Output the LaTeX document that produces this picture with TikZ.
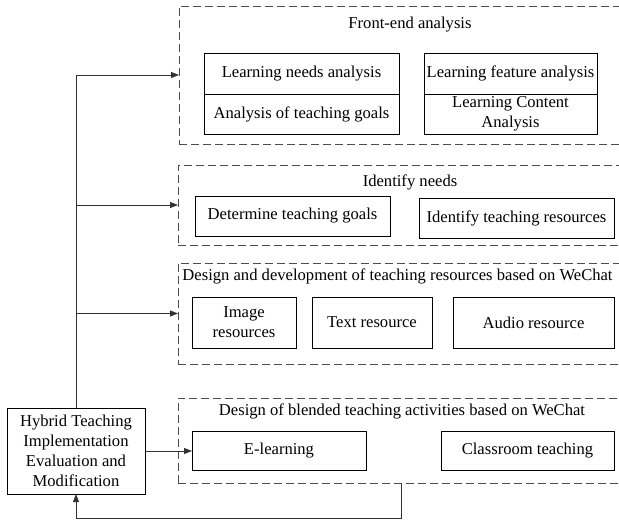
\documentclass[tikz,border=0pt]{standalone}
\usepackage{fontspec}
\setmainfont{Liberation Serif}
\usetikzlibrary{arrows.meta}
\begin{document}
\begin{tikzpicture}[x=1pt,y=-1pt,
  font=\fontsize{16.6}{19.8}\selectfont,
  every node/.style={inner sep=0pt, outer sep=0pt},
  solidbox/.style={draw=black, line width=0.9pt, align=center, rectangle},
  dashbox/.style={draw=black!70, line width=0.9pt, dash pattern=on 8pt off 4pt, rectangle},
  ttl/.style={align=center},
  conn/.style={draw=black!80, line width=0.9pt},
  arr/.style={conn, -{Triangle[length=8pt,width=6pt]}}
]
\useasboundingbox (0,0) rectangle (619,521);
% dashed groups
\node[dashbox, minimum width=446pt, minimum height=138pt] (fe) at (402,75) {};
\node[dashbox, minimum width=447pt, minimum height=80pt] (idn) at (401.5,205) {};
\node[dashbox, minimum width=447pt, minimum height=101pt] (dev) at (401.5,313.5) {};
\node[dashbox, minimum width=447pt, minimum height=85pt] (bl) at (401.5,440.5) {};
% titles
\node[ttl] (feT) at (410,25) {Front-end analysis};
\node[ttl] (idnT) at (410,182) {Identify needs};
\node[ttl] (devT) at (397.5,276) {Design and development of teaching resources based on WeChat};
\node[ttl] (blT) at (402,411) {Design of blended teaching activities based on WeChat};
% front-end
\node[solidbox, minimum width=195pt, minimum height=41pt] (lna) at (301.5,73.5) {Learning needs analysis};
\node[solidbox, minimum width=195pt, minimum height=40pt] (atg) at (301.5,114) {Analysis of teaching goals};
\node[solidbox, minimum width=173pt, minimum height=41pt] (lfa) at (510.5,73.5) {Learning feature analysis};
\node[solidbox, minimum width=173pt, minimum height=40pt] (lca) at (510.5,114) {Learning Content\\Analysis};
% identify needs
\node[solidbox, minimum width=195pt, minimum height=40pt] (dtg) at (292.5,216) {Determine teaching goals};
\node[solidbox, minimum width=195pt, minimum height=40pt] (itr) at (516.5,218) {Identify teaching resources};
% resources
\node[solidbox, minimum width=104pt, minimum height=51pt] (img) at (244,322.5) {Image\\resources};
\node[solidbox, minimum width=120pt, minimum height=51pt] (txt) at (372,322.5) {Text resource};
\node[solidbox, minimum width=161pt, minimum height=51pt] (aud) at (533.5,322.5) {Audio resource};
% blended
\node[solidbox, minimum width=174pt, minimum height=39pt] (el) at (279,451) {E-learning};
\node[solidbox, minimum width=173pt, minimum height=39pt] (ct) at (527.5,451) {Classroom teaching};
% hybrid
\node[solidbox, minimum width=138pt, minimum height=86pt] (hyb) at (76,451) {Hybrid Teaching\\Implementation\\Evaluation and\\Modification};
% connectors
\draw[conn] (hyb.north) -- (hyb.north |- fe.west);
\draw[arr] (hyb.north |- fe.west) -- (fe.west);
\draw[arr] (hyb.north |- idn.west) -- (idn.west);
\draw[arr] (hyb.north |- dev.west) -- (dev.west);
\draw[arr] (hyb.east) -- (el.west);
\coordinate (fb) at (401,518);
\draw[arr] (fb |- bl.south) -- (fb) -| (hyb.south);
\end{tikzpicture}
\end{document}
